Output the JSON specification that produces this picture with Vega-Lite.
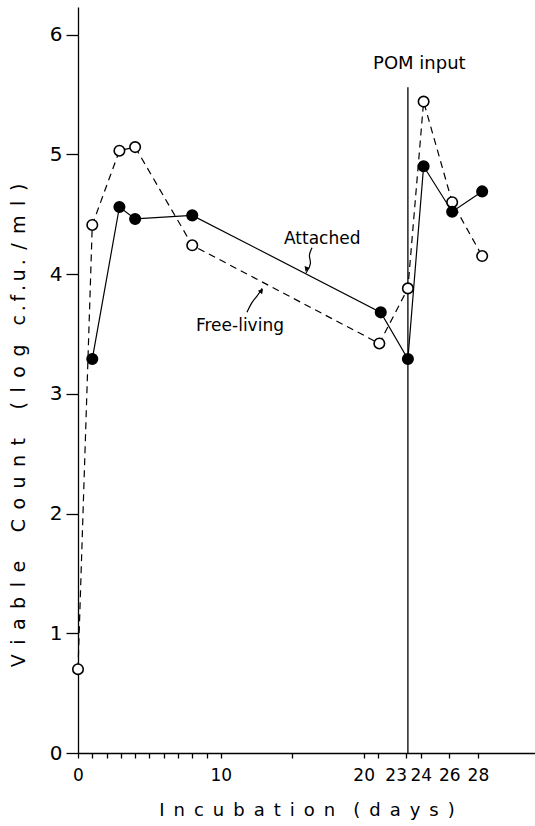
{
  "$schema": "https://vega.github.io/schema/vega-lite/v6.json",
  "width": 457,
  "height": 746,
  "autosize": {"type": "none"},
  "padding": {"left": 78, "top": 7, "right": 0, "bottom": 73},
  "background": "white",
  "config": {
    "view": {"stroke": null},
    "font": "DejaVu Sans",
    "axis": {"domainColor": "black", "tickColor": "black", "labelColor": "black", "titleColor": "black", "grid": false, "titleFontWeight": "normal", "domainWidth": 1.3, "tickWidth": 1.3, "labelOverlap": false}
  },
  "datasets": {
    "pts": [
      {"day": 0, "count": 0.7, "series": "Free-living"},
      {"day": 1, "count": 4.41, "series": "Free-living"},
      {"day": 2.9, "count": 5.03, "series": "Free-living"},
      {"day": 4, "count": 5.06, "series": "Free-living"},
      {"day": 8, "count": 4.24, "series": "Free-living"},
      {"day": 21.1, "count": 3.42, "series": "Free-living"},
      {"day": 23.1, "count": 3.88, "series": "Free-living"},
      {"day": 24.2, "count": 5.44, "series": "Free-living"},
      {"day": 26.2, "count": 4.6, "series": "Free-living"},
      {"day": 28.3, "count": 4.15, "series": "Free-living"},
      {"day": 1, "count": 3.29, "series": "Attached"},
      {"day": 2.9, "count": 4.56, "series": "Attached"},
      {"day": 4, "count": 4.46, "series": "Attached"},
      {"day": 8, "count": 4.49, "series": "Attached"},
      {"day": 21.2, "count": 3.68, "series": "Attached"},
      {"day": 23.1, "count": 3.29, "series": "Attached"},
      {"day": 24.2, "count": 4.9, "series": "Attached"},
      {"day": 26.2, "count": 4.52, "series": "Attached"},
      {"day": 28.3, "count": 4.69, "series": "Attached"}
    ]
  },
  "encoding": {
    "x": {
      "field": "day", "type": "quantitative",
      "scale": {"domain": [0, 32], "nice": false, "zero": false},
      "axis": {
        "values": [0,1,2,3,4,5,6,7,8,9,10,15,20,21,23,24,26,28],
        "labelExpr": "indexof([0,10,20,23,24,26,28], datum.value) >= 0 ? datum.label : ''",
        "labelOverlap": false,
        "labelAlign": {"condition": {"test": "datum.value == 23", "value": "right"}, "value": "center"},
        "labelFontSize": 17,
        "labelPadding": 9,
        "tickSize": 5,
        "title": "I\u2002n\u2002c\u2002u\u2002b\u2002a\u2002t\u2002i\u2002o\u2002n\u2002\u2002(\u2002d\u2002a\u2002y\u2002s\u2002)",
        "titleFontSize": 18,
        "titleY": 57,
        "titleBaseline": "middle"
      }
    },
    "y": {
      "field": "count", "type": "quantitative",
      "scale": {"domain": [0, 6.23], "nice": false},
      "axis": {
        "values": [0,1,2,3,4,5,6],
        "format": "d",
        "labelFontSize": 20,
        "labelPadding": 4,
        "tickSize": 12,
        "title": "V\u2002i\u2002a\u2002b\u2002l\u2002e\u2002\u2002\u2002C\u2002o\u2002u\u2002n\u2002t\u2002\u2002\u2002(\u2002l\u2002o\u2002g\u2002\u2002c\u2009.\u2009f\u2009.\u2009u\u2009.\u2002/\u2002m\u2002l\u2002)",
        "titleFontSize": 19,
        "titleX": -60,
        "titleY": 418,
        "titleAlign": "center",
        "titleBaseline": "middle",
        "titleAngle": -90
      }
    }
  },
  "layer": [
    {
      "data": {"values": [{"day": 23.1, "count": 0, "y1": 5.56}]},
      "mark": {"type": "rule", "color": "black", "strokeWidth": 1.3},
      "encoding": {
        "y2": {"field": "y1"}
      }
    },
    {
      "data": {"name": "pts"},
      "transform": [{"filter": "datum.series === 'Attached'"}],
      "mark": {"type": "line", "color": "black", "strokeWidth": 1.2},
      "encoding": {
        "order": {"field": "day"}
      }
    },
    {
      "data": {"name": "pts"},
      "transform": [{"filter": "datum.series === 'Free-living'"}],
      "mark": {"type": "line", "color": "black", "strokeWidth": 1.2, "strokeDash": [7, 5]},
      "encoding": {
        "order": {"field": "day"}
      }
    },
    {
      "data": {"name": "pts"},
      "mark": {"type": "point", "size": 110, "strokeWidth": 1.6, "opacity": 1},
      "encoding": {
        "fill": {
          "field": "series", "type": "nominal",
          "scale": {"domain": ["Attached", "Free-living"], "range": ["black", "white"]},
          "legend": null
        },
        "stroke": {"value": "black"}
      }
    },
    {
      "data": {"values": [
        {"day": 23.9, "count": 5.75, "label": "POM input", "fs": 18},
        {"day": 17.1, "count": 4.29, "label": "Attached", "fs": 17},
        {"day": 11.34, "count": 3.57, "label": "Free-living", "fs": 17}
      ]},
      "mark": {"type": "text", "color": "black", "align": "center", "baseline": "middle"},
      "encoding": {
        "text": {"field": "label"},
        "size": {"field": "fs", "type": "quantitative", "scale": null}
      }
    },
    {
      "data": {"values": [
        {"day": 16.39, "count": 4.22, "arrow": "a", "k": 1},
        {"day": 16.11, "count": 4.15, "arrow": "a", "k": 2},
        {"day": 16.39, "count": 4.09, "arrow": "a", "k": 3},
        {"day": 15.97, "count": 4.01, "arrow": "a", "k": 4},
        {"day": 11.83, "count": 3.68, "arrow": "f", "k": 1},
        {"day": 12.18, "count": 3.77, "arrow": "f", "k": 2},
        {"day": 12.53, "count": 3.81, "arrow": "f", "k": 3},
        {"day": 12.89, "count": 3.88, "arrow": "f", "k": 4}
      ]},
      "mark": {"type": "line", "color": "black", "strokeWidth": 1.2, "interpolate": "basis"},
      "encoding": {
        "detail": {"field": "arrow"},
        "order": {"field": "k"}
      }
    },
    {
      "data": {"values": [
        {"day": 15.99, "count": 4.04, "ang": 200},
        {"day": 12.85, "count": 3.86, "ang": 40}
      ]},
      "mark": {"type": "point", "shape": "triangle-up", "size": 30, "filled": true, "color": "black", "opacity": 1},
      "encoding": {
        "angle": {"field": "ang", "type": "quantitative", "scale": null}
      }
    }
  ]
}
